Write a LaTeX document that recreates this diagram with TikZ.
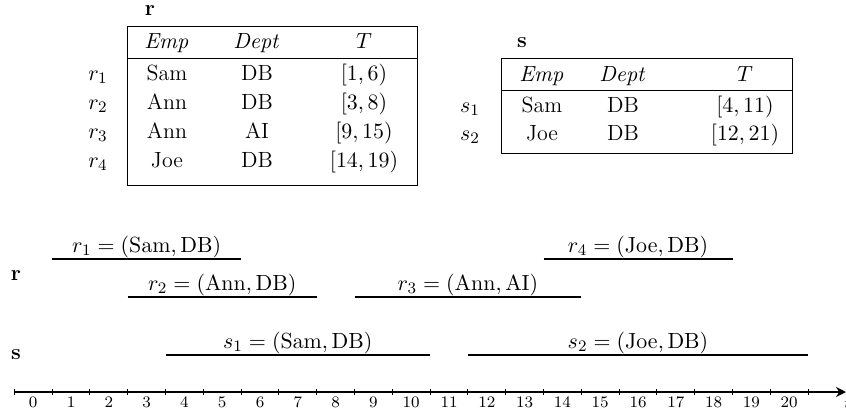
\documentclass[tikz,border=0pt]{standalone}
\usetikzlibrary{arrows.meta}
\newcommand{\tx}[1]{14.3+37.8*(#1)}
\begin{document}
\begin{tikzpicture}[x=0.5pt,y=-0.5pt,
  cell/.style={anchor=base,inner sep=0pt,font=\fontsize{11}{13}\selectfont},
  ttl/.style={anchor=base,inner sep=0pt,font=\fontsize{11}{13}\selectfont\bfseries},
  frameline/.style={line width=0.5pt},
  ivl/.style={line width=0.6pt},
  ivlab/.style={anchor=base,inner sep=0pt,font=\fontsize{11}{13}\selectfont},
  tickline/.style={line width=0.5pt},
  ticklab/.style={inner sep=0pt,font=\fontsize{8}{9}\selectfont},
  axisline/.style={line width=1pt,-{Stealth[length=5pt,width=5pt]}}]
\useasboundingbox (0,0) rectangle (846,413);

% ---- table r ----
\node[ttl] (rtitle) at (150,15) {r};
\draw[frameline] (127,26) rectangle (417,185);
\draw[frameline] (127,58) -- (417,58);
\node[cell] (rh1) at (167,48) {$\mathit{Emp}$};
\node[cell] (rh2) at (257,48) {$\mathit{Dept}$};
\node[cell] (rh3) at (364,48) {$T$};
\node[cell] (rl1) at (98,80) {$r_1$};
\node[cell] (rl2) at (98,109) {$r_2$};
\node[cell] (rl3) at (98,138) {$r_3$};
\node[cell] (rl4) at (98,167) {$r_4$};
\node[cell] (ra1) at (167,80) {Sam};
\node[cell] (rb1) at (257,80) {DB};
\node[cell] (rc1) at (364,80) {$[1,6)$};
\node[cell] (ra2) at (167,109) {Ann};
\node[cell] (rb2) at (257,109) {DB};
\node[cell] (rc2) at (364,109) {$[3,8)$};
\node[cell] (ra3) at (167,138) {Ann};
\node[cell] (rb3) at (257,138) {AI};
\node[cell] (rc3) at (364,138) {$[9,15)$};
\node[cell] (ra4) at (167,167) {Joe};
\node[cell] (rb4) at (257,167) {DB};
\node[cell] (rc4) at (364,167) {$[14,19)$};

% ---- table s ----
\node[ttl] (stitle) at (522,47) {s};
\draw[frameline] (501,58) rectangle (792,153);
\draw[frameline] (501,90) -- (792,90);
\node[cell] (sh1) at (542,81) {$\mathit{Emp}$};
\node[cell] (sh2) at (623,81) {$\mathit{Dept}$};
\node[cell] (sh3) at (745,81) {$T$};
\node[cell] (sl1) at (470,112) {$s_1$};
\node[cell] (sl2) at (470,140) {$s_2$};
\node[cell] (sa1) at (542,112) {Sam};
\node[cell] (sb1) at (623,112) {DB};
\node[cell] (sc1) at (745,112) {$[4,11)$};
\node[cell] (sa2) at (542,140) {Joe};
\node[cell] (sb2) at (623,140) {DB};
\node[cell] (sc2) at (745,140) {$[12,21)$};

% ---- timeline rows ----
\node[font=\fontsize{11}{13}\selectfont\bfseries,inner sep=0pt] (rrow) at (16,276) {r};
\node[font=\fontsize{11}{13}\selectfont\bfseries,inner sep=0pt] (srow) at (16,355) {s};

% intervals
\coordinate (r1a) at ({\tx{1}},259);  \coordinate (r1b) at ({\tx{6}},259);
\coordinate (r2a) at ({\tx{3}},297);  \coordinate (r2b) at ({\tx{8}},297);
\coordinate (r3a) at ({\tx{9}},297);  \coordinate (r3b) at ({\tx{15}},297);
\coordinate (r4a) at ({\tx{14}},259); \coordinate (r4b) at ({\tx{19}},259);
\coordinate (s1a) at ({\tx{4}},355);  \coordinate (s1b) at ({\tx{11}},355);
\coordinate (s2a) at ({\tx{12}},355); \coordinate (s2b) at ({\tx{21}},355);
\draw[ivl] (r1a) -- (r1b);
\draw[ivl] (r2a) -- (r2b);
\draw[ivl] (r3a) -- (r3b);
\draw[ivl] (r4a) -- (r4b);
\draw[ivl] (s1a) -- (s1b);
\draw[ivl] (s2a) -- (s2b);
\node[ivlab] (lr1) at ({\tx{3.5}},252) {$r_1=(\mathrm{Sam},\mathrm{DB})$};
\node[ivlab] (lr2) at ({\tx{5.5}},290) {$r_2=(\mathrm{Ann},\mathrm{DB})$};
\node[ivlab] (lr3) at ({\tx{12}},290) {$r_3=(\mathrm{Ann},\mathrm{AI})$};
\node[ivlab] (lr4) at ({\tx{16.5}},252) {$r_4=(\mathrm{Joe},\mathrm{DB})$};
\node[ivlab] (ls1) at ({\tx{7.5}},348) {$s_1=(\mathrm{Sam},\mathrm{DB})$};
\node[ivlab] (ls2) at ({\tx{16.5}},348) {$s_2=(\mathrm{Joe},\mathrm{DB})$};

% ---- axis ----
\coordinate (ax0) at (14.3,392);
\coordinate (ax1) at (846,392);
\draw[axisline] (ax0) -- (ax1);
\foreach \i in {0,...,21} \draw[tickline] ({\tx{\i}},389) -- ({\tx{\i}},395);
\foreach \i in {0,...,20} \node[ticklab] (t\i) at ({\tx{\i+0.5}},402) {\i};
\node[ticklab,anchor=west] (tlab) at (844,404) {$t$};
\end{tikzpicture}
\end{document}
